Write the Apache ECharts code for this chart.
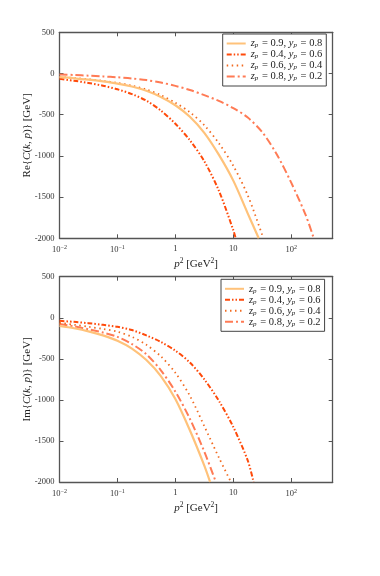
<!DOCTYPE html>
<html>
<head>
<meta charset="utf-8">
<script src="https://cdn.jsdelivr.net/npm/echarts@6/dist/echarts.min.js"></script>
<style>
html, body { margin: 0; padding: 0; background: #fff; }
#main { width: 380px; height: 576px; }
</style>
</head>
<body>
<div id="main"></div>
<script>
// legend entries (same four parameter sets in both panels)
var names = ['z_p = 0.9, y_p = 0.8', 'z_p = 0.4, y_p = 0.6', 'z_p = 0.6, y_p = 0.4', 'z_p = 0.8, y_p = 0.2'];

// upper panel: Re C(k,p) [GeV] versus p^2 [GeV^2]
var reP2_1 = [0.01, 0.0178, 0.0316, 0.0562, 0.1, 0.178, 0.316, 0.562, 1, 1.78, 3.16, 5.62, 10, 17.8, 27.5];
var re_1   = [-45, -58, -75, -96, -122, -158, -210, -285, -385, -525, -720, -985, -1300, -1700, -2000];
var reP2_2 = [0.01, 0.0178, 0.0316, 0.0562, 0.1, 0.178, 0.316, 0.562, 1, 1.78, 3.16, 5.62, 10, 11];
var re_2   = [-65, -88, -115, -148, -192, -250, -330, -450, -610, -810, -1065, -1420, -1900, -2000];
var reP2_3 = [0.01, 0.0178, 0.0316, 0.0562, 0.1, 0.178, 0.316, 0.562, 1, 1.78, 3.16, 5.62, 10, 17.8, 31.6, 32.7];
var re_3   = [-42, -55, -70, -90, -115, -148, -195, -263, -355, -470, -628, -845, -1120, -1480, -1960, -2000];
var reP2_4 = [0.01, 0.0178, 0.0316, 0.0562, 0.1, 0.178, 0.316, 0.562, 1, 1.78, 3.16, 5.62, 10, 17.8, 31.6, 56.2, 100, 178, 245];
var re_4   = [-12, -18, -26, -35, -46, -60, -80, -110, -150, -200, -262, -333, -420, -535, -712, -980, -1325, -1720, -2000];

// lower panel: Im C(k,p) [GeV] versus p^2 [GeV^2]
var imP2_1 = [0.01, 0.0178, 0.0316, 0.0562, 0.1, 0.178, 0.316, 0.562, 1, 1.78, 3.16, 3.98];
var im_1   = [-100, -128, -165, -215, -280, -375, -515, -710, -990, -1370, -1800, -2000];
var imP2_2 = [0.01, 0.0178, 0.0316, 0.0562, 0.1, 0.178, 0.316, 0.562, 1, 1.78, 3.16, 5.62, 10, 17.8, 22.4];
var im_2   = [-37, -50, -66, -86, -110, -150, -215, -295, -400, -545, -750, -1010, -1330, -1740, -2000];
var imP2_3 = [0.01, 0.0178, 0.0316, 0.0562, 0.1, 0.178, 0.316, 0.562, 1, 1.78, 3.16, 5.62, 9.1];
var im_3   = [-62, -85, -110, -135, -170, -232, -330, -470, -670, -950, -1320, -1700, -2000];
var imP2_4 = [0.01, 0.0178, 0.0316, 0.0562, 0.1, 0.178, 0.316, 0.562, 1, 1.78, 3.16, 5];
var im_4   = [-75, -105, -140, -180, -232, -320, -445, -640, -900, -1230, -1630, -2000];

var colors = ['#FFC27A', '#FF4A0A', '#F26B21', '#FF7B55'];
var dashes = ['solid', [5, 2, 1.5, 2, 1.5, 2], [1.5, 3.5], [8, 3, 2, 3]];
var widths = [2.2, 2, 1.8, 2];

var serif = 'Liberation Serif';

function pairs(xs, ys) {
    return xs.map(function (x, i) { return [x, ys[i]]; });
}

function xLabel(v) {
    var l = Math.log10(v);
    var e = Math.round(l);
    if (Math.abs(l - e) > 0.01) return '';
    if (e === 0) return '1';
    if (e === 1) return '10';
    return '10{sup|' + (e < 0 ? '\u2212' + (-e) : e) + '}';
}

var axisLineStyle = { color: '#555', width: 1.3 };
var tickStyle = { show: true, inside: true, length: 4, lineStyle: { color: '#555', width: 1 } };

function xAxes(grid) {
    return [{
        type: 'log', gridIndex: grid, min: 0.01, max: 520, position: 'bottom',
        axisLine: { onZero: false, lineStyle: axisLineStyle },
        axisTick: tickStyle,
        splitLine: { show: false },
        axisLabel: {
            formatter: xLabel, showMaxLabel: false, margin: 6, color: '#333',
            fontFamily: serif, fontSize: 8.5,
            rich: { sup: { fontFamily: serif, fontSize: 6, padding: [0, 0, 5, 0], color: '#333' } }
        },
        name: '{i|p}{sup|2} [GeV{sup|2}]',
        nameLocation: 'middle', nameGap: 19,
        nameTextStyle: {
            fontFamily: serif, fontSize: 11, color: '#222',
            rich: {
                i: { fontFamily: serif, fontSize: 11, fontStyle: 'italic', color: '#222' },
                sup: { fontFamily: serif, fontSize: 7.5, padding: [0, 0, 6, 0], color: '#222' }
            }
        }
    }, {
        type: 'log', gridIndex: grid, min: 0.01, max: 520, position: 'top',
        axisLine: { onZero: false, lineStyle: axisLineStyle },
        axisTick: tickStyle,
        splitLine: { show: false },
        axisLabel: { show: false }
    }];
}

function yAxes(grid, label) {
    return [{
        type: 'value', gridIndex: grid, min: -2000, max: 500, interval: 500, position: 'left',
        axisLine: { show: true, onZero: false, lineStyle: axisLineStyle },
        axisTick: tickStyle,
        splitLine: { show: false },
        axisLabel: {
            margin: 5, color: '#333', fontFamily: serif, fontSize: 8.5,
            formatter: function (v) { return String(v); }
        },
        name: label,
        nameLocation: 'middle', nameGap: 27, nameRotate: 90, nameMoveOverlap: false,
        nameTextStyle: {
            fontFamily: serif, fontSize: 11, color: '#222',
            rich: { i: { fontFamily: serif, fontSize: 11, fontStyle: 'italic', color: '#222' } }
        }
    }, {
        type: 'value', gridIndex: grid, min: -2000, max: 500, interval: 500, position: 'right',
        axisLine: { show: true, onZero: false, lineStyle: axisLineStyle },
        axisTick: tickStyle,
        splitLine: { show: false },
        axisLabel: { show: false }
    }];
}

function legendFor(left, top) {
    return {
        orient: 'vertical', left: left, top: top,
        data: names,
        itemWidth: 19, itemHeight: 8, itemGap: 0,
        padding: [4, 4, 4, 3],
        borderColor: '#444', borderWidth: 1, borderRadius: 0,
        backgroundColor: '#fff',
        selectedMode: false,
        itemStyle: { opacity: 0 },
        formatter: function (n) {
            return n.replace(/([zy])_p/g, '{i|$1}{s|p}');
        },
        textStyle: {
            fontFamily: serif, fontSize: 10.5, color: '#222', lineHeight: 11,
            rich: {
                i: { fontFamily: serif, fontSize: 10.5, fontStyle: 'italic', color: '#222', lineHeight: 11 },
                s: { fontFamily: serif, fontSize: 7, fontStyle: 'italic', color: '#222', padding: [4, 1, 0, 0], lineHeight: 11 }
            }
        }
    };
}

var panels = [
    [pairs(reP2_1, re_1), pairs(reP2_2, re_2), pairs(reP2_3, re_3), pairs(reP2_4, re_4)],
    [pairs(imP2_1, im_1), pairs(imP2_2, im_2), pairs(imP2_3, im_3), pairs(imP2_4, im_4)]
];

var series = [];
panels.forEach(function (sets, g) {
    sets.forEach(function (d, k) {
        series.push({
            name: names[k], type: 'line', data: d,
            xAxisIndex: g * 2, yAxisIndex: g * 2,
            symbol: 'none', smooth: 0.3,
            clip: true, z: 10 - k,
            lineStyle: { color: colors[k], width: widths[k], type: dashes[k], cap: 'butt' },
            itemStyle: { color: colors[k] }
        });
    });
});

var option = {
    animation: false,
    backgroundColor: '#fff',
    grid: [
        { left: 59.5, top: 32.3, width: 273.2, height: 206 },
        { left: 59.5, top: 276.7, width: 273.2, height: 205.3 }
    ],
    xAxis: xAxes(0).concat(xAxes(1)),
    yAxis: yAxes(0, 'Re{{i|C}({i|k}, {i|p})} [GeV]').concat(yAxes(1, 'Im{{i|C}({i|k}, {i|p})} [GeV]')),
    legend: [legendFor(222.7, 34), legendFor(221, 279.3)],
    series: series
};

var myChart = echarts.init(document.getElementById('main'));
myChart.setOption(option);
</script>
</body>
</html>
